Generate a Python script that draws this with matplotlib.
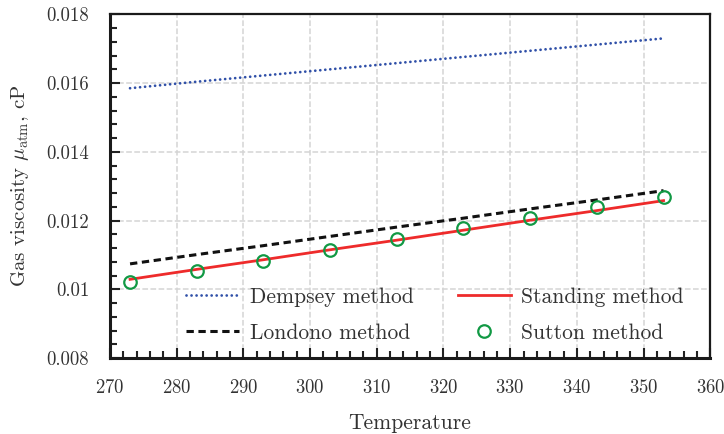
import numpy as np
import matplotlib
matplotlib.use('Agg')
from matplotlib import pyplot as plt
from matplotlib.ticker import MultipleLocator, FuncFormatter

plt.rcParams['font.family'] = 'serif'
plt.rcParams['font.serif'] = ['cmr10']
plt.rcParams['mathtext.fontset'] = 'cm'
plt.rcParams['axes.unicode_minus'] = False
plt.rcParams['axes.formatter.use_mathtext'] = True

# temperature (K) and gas viscosity (cP) from the four correlations
temp = [273, 283, 293, 303, 313, 323, 333, 343, 353]
dempsey = [0.01585, 0.01604, 0.01622, 0.01640, 0.01658, 0.01676, 0.01694, 0.01712, 0.01730]
standing = [0.01029, 0.01058, 0.01086, 0.01115, 0.01143, 0.01172, 0.01201, 0.01229, 0.01258]
londono = [0.01074, 0.01101, 0.01127, 0.01154, 0.01181, 0.01207, 0.01234, 0.01260, 0.01287]
sutton = [0.01020, 0.01052, 0.01083, 0.01114, 0.01146, 0.01177, 0.01207, 0.01238, 0.01268]

fig = plt.figure(figsize=(7.24, 4.34), dpi=100)
ax = fig.add_axes([0.152, 0.175, 0.829, 0.792])

ax.plot(temp, dempsey, color='#3050a8', lw=2.0, dashes=(0.01, 1.8), dash_capstyle='round',
        label='Dempsey method')
ax.plot(temp, londono, color='#111111', lw=2.2, dashes=(2.4, 1.5), label='Londono method')
ax.plot(temp, standing, '-', color='#ee2b2b', lw=2.0, label='Standing method')
ax.plot(temp, sutton, 'o', mfc='none', mec='#119944', mew=1.6, ms=9, ls='none', label='Sutton method')

ax.set_xlim(270, 360)
ax.set_ylim(0.008, 0.018)
ax.xaxis.set_major_locator(MultipleLocator(10))
ax.xaxis.set_minor_locator(MultipleLocator(2))
ax.yaxis.set_major_locator(MultipleLocator(0.002))
ax.yaxis.set_minor_locator(MultipleLocator(0.0004))
ax.yaxis.set_major_formatter(FuncFormatter(lambda v, p: '%g' % v))

ax.tick_params(which='both', direction='in', top=False, right=False, labelsize=13.5,
               width=1.5, colors='#222222', labelcolor='#333333')
ax.tick_params(axis='x', pad=15)
ax.tick_params(axis='y', pad=15)
ax.tick_params(which='major', length=7)
ax.tick_params(which='minor', length=5)
for side in ['left', 'bottom']:
    ax.spines[side].set_linewidth(2.2)
for side in ['top', 'right']:
    ax.spines[side].set_linewidth(1.6)
for s in ax.spines.values():
    s.set_color('#1a1a1a')

ax.grid(True, which='major', ls='--', color='#d4d4d4', lw=1.1)
ax.set_axisbelow(True)

ax.set_xlabel('Temperature', fontsize=15.5, labelpad=12, color='#333333')
ax.set_ylabel(r'Gas viscosity $\mu_{\rm atm}$, cP', fontsize=15, labelpad=11, color='#333333')

ax.legend(ncol=2, frameon=False, fontsize=15.5, handlelength=2.45, handletextpad=0.5,
          columnspacing=2.05, labelspacing=0.75, loc='upper left',
          bbox_to_anchor=(0.095, 0.262), labelcolor='#333333')

fig.savefig('out.png', dpi=100)
